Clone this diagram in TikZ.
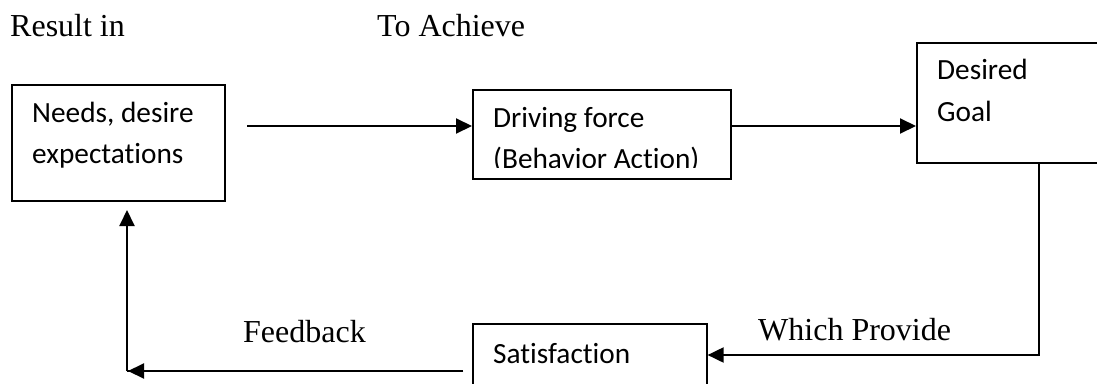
\documentclass[tikz,border=0pt]{standalone}
\usepackage{fontspec}
\setmainfont{Liberation Serif}
\newfontfamily\calibrifont[Ligatures=NoCommon]{Carlito}
\usetikzlibrary{arrows.meta}
\begin{document}
\begin{tikzpicture}[x=1pt,y=-1pt,
  boxshape/.style={draw,line width=1.6pt,inner sep=0pt,anchor=north west},
  boxtext/.style={inner sep=0pt,anchor=base west,font=\calibrifont\fontsize{29.3}{41}\selectfont},
  lbl/.style={inner sep=0pt,anchor=base west,font=\fontsize{32}{38}\selectfont},
  conn/.style={line width=2pt,-{Triangle[length=16pt,width=15pt]}},
  plain/.style={line width=2pt}]
\clip (0,0) rectangle (1097,383);
\fill[white] (0,0) rectangle (1097,383);
% top labels
\node[lbl] (resin) at (10,36) {Result in};
\node[lbl] (toach) at (377,36) {To Achieve};
% boxes
\node[boxshape,minimum width=213pt,minimum height=116pt] (n1) at (11,84) {};
\node[boxshape,minimum width=258pt,minimum height=89pt] (n2) at (472,89) {};
\node[boxshape,minimum width=220pt,minimum height=120pt] (n3) at (916,42) {};
\node[boxshape,minimum width=234pt,minimum height=80pt] (n4) at (472,323) {};
% box texts
\node[boxtext] (t1a) at (32,122) {Needs, desire};
\node[boxtext] (t1b) at (32,163) {expectations};
\begin{scope}
\clip (473,90) rectangle (729,167.5);
\node[boxtext] (t2a) at (493,127) {Driving force};
\node[boxtext] (t2b) at (493,168) {(Behavior Action)};
\end{scope}
\node[boxtext] (t3a) at (937,79) {Desired};
\node[boxtext] (t3b) at (937,121) {Goal};
\node[boxtext] (t4a) at (493,363) {Satisfaction};
% labels on connectors
\node[lbl] (fb) at (243,342) {Feedback};
\node[lbl] (wp) at (758,340) {Which Provide};
% connectors
\coordinate (s1) at (247,126);
\draw[conn] (s1) -- (n2.west |- s1);
\draw[conn] (n2.east |- s1) -- (n3.west |- s1);
\coordinate (d1) at (1039,355);
\draw[conn] (n3.south -| d1) -- (d1) -- (n4.east |- d1);
\coordinate (f1) at (463,371);
\coordinate (f2) at (127,371);
\coordinate (f3) at (127,210);
\draw[plain] (f1) -- (f2);
\draw[conn] (f2) -- (f3);
\draw[conn] (f1) -- ([xshift=1pt]f2);
\end{tikzpicture}
\end{document}
